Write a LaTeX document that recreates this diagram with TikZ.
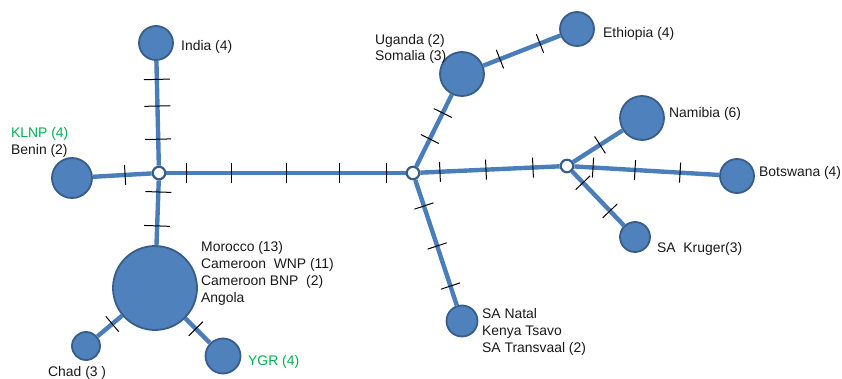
\documentclass[tikz,border=0pt]{standalone}
\usepackage{fontspec}
\setmainfont{Liberation Sans}
\usetikzlibrary{calc}
\definecolor{hapfill}{HTML}{4F81BD}
\definecolor{hapedge}{HTML}{385D8A}
\definecolor{linkblue}{HTML}{4A7EBB}
\definecolor{popgreen}{HTML}{00B050}
\tikzset{
  hap/.style={circle, fill=hapfill, draw=hapedge, line width=1.8pt, inner sep=0pt},
  median/.style={circle, fill=white, draw=hapedge, line width=2.2pt, inner sep=0pt, minimum size=12.5pt},
  link/.style={draw=linkblue, line width=4.4pt},
  hatchline/.style={draw=black, line width=1pt},
  poplabel/.style={anchor=base west, inner sep=0pt, align=left,
    font=\fontsize{13.9}{16.8}\selectfont, text=black!90},
}
% tick across an edge: [half length]{from}{to}{fraction}
\newcommand{\hatch}[4][10pt]{%
  \draw[hatchline] ($(#2)!#4!(#3)!#1!90:(#3)$) -- ($(#2)!#4!(#3)!#1!-90:(#3)$);}
\begin{document}
\begin{tikzpicture}[x=1pt,y=-1pt]
  \useasboundingbox (0,0) rectangle (842,379);
  % median vectors
  \node[median] (hubA) at (159,173) {};
  \node[median] (hubB) at (413,173) {};
  \node[median] (hubC) at (567,166) {};
  % haplotypes
  \node[hap, minimum size=34pt] (india) at (156,43) {};
  \node[hap, minimum size=40pt] (benin) at (72,178) {};
  \node[hap, minimum size=84pt] (morocco) at (155,288) {};
  \node[hap, minimum size=28pt] (chad) at (86,346) {};
  \node[hap, minimum size=35pt] (ygr) at (223,356) {};
  \node[hap, minimum size=44pt] (uganda) at (462,74) {};
  \node[hap, minimum size=34pt] (ethiopia) at (577,29) {};
  \node[hap, minimum size=44pt] (namibia) at (642,118) {};
  \node[hap, minimum size=34pt] (botswana) at (737,176) {};
  \node[hap, minimum size=30pt] (kruger) at (635,237) {};
  \node[hap, minimum size=31pt] (natal) at (462,321) {};
  % links
  \draw[link] (hubA) -- (india);
  \draw[link] (hubA) -- (benin);
  \draw[link] (hubA) -- (morocco);
  \draw[link] (hubA) -- (hubB);
  \draw[link] (morocco) -- (chad);
  \draw[link] (morocco) -- (ygr);
  \draw[link] (hubB) -- (uganda);
  \draw[link] (uganda) -- (ethiopia);
  \draw[link] (hubB) -- (natal);
  \draw[link] (hubB) -- (hubC);
  \draw[link] (hubC) -- (namibia);
  \draw[link] (hubC) -- (botswana);
  \draw[link] (hubC) -- (kruger);
  % mutations
  \foreach \t in {0.26,0.515,0.72} \hatch[13pt]{hubA}{india}{\t};
  \foreach \t in {0.165,0.46} \hatch[13pt]{hubA}{morocco}{\t};
  \hatch{hubA}{benin}{0.39};
  \foreach \t in {0.11,0.287,0.5,0.709,0.894} \hatch{hubA}{hubB}{\t};
  \foreach \t in {0.175,0.474,0.779} \hatch{hubB}{hubC}{\t};
  \foreach \t in {0.153,0.4,0.665} \hatch{hubC}{botswana}{\t};
  \foreach \t in {0.343,0.606} \hatch{hubB}{uganda}{\t};
  \foreach \t in {0.33,0.678} \hatch{uganda}{ethiopia}{\t};
  \hatch{hubC}{namibia}{0.44};
  \foreach \t in {0.235,0.632} \hatch{hubC}{kruger}{\t};
  \foreach \t in {0.223,0.493,0.764} \hatch{hubB}{natal}{\t};
  \hatch{morocco}{chad}{0.62};
  \hatch{morocco}{ygr}{0.6};
  % labels
  \node[poplabel] (lbl-india) at (181,51) {India (4)};
  \node[poplabel, text=popgreen] (lbl-klnp) at (11,138) {KLNP (4)};
  \node[poplabel] (lbl-benin) at (11,155) {Benin (2)};
  \node[poplabel] (lbl-uganda) at (375,61) {Uganda (2)\\Somalia (3)};
  \node[poplabel] (lbl-ethiopia) at (603,38) {Ethiopia (4)};
  \node[poplabel] (lbl-namibia) at (669,118) {Namibia (6)};
  \node[poplabel] (lbl-botswana) at (759,177) {Botswana (4)};
  \node[poplabel] (lbl-kruger) at (657,252) {SA\ \ Kruger(3)};
  \node[poplabel] (lbl-natal) at (482,352) {SA Natal\\Kenya Tsavo\\SA Transvaal (2)};
  \node[poplabel] (lbl-morocco) at (201,302) {Morocco (13)\\Cameroon\ \ WNP (11)\\Cameroon BNP\ \ (2)\\Angola};
  \node[poplabel] (lbl-chad) at (48,376) {Chad (3 )};
  \node[poplabel, text=popgreen] (lbl-ygr) at (248,365) {YGR (4)};
\end{tikzpicture}
\end{document}
